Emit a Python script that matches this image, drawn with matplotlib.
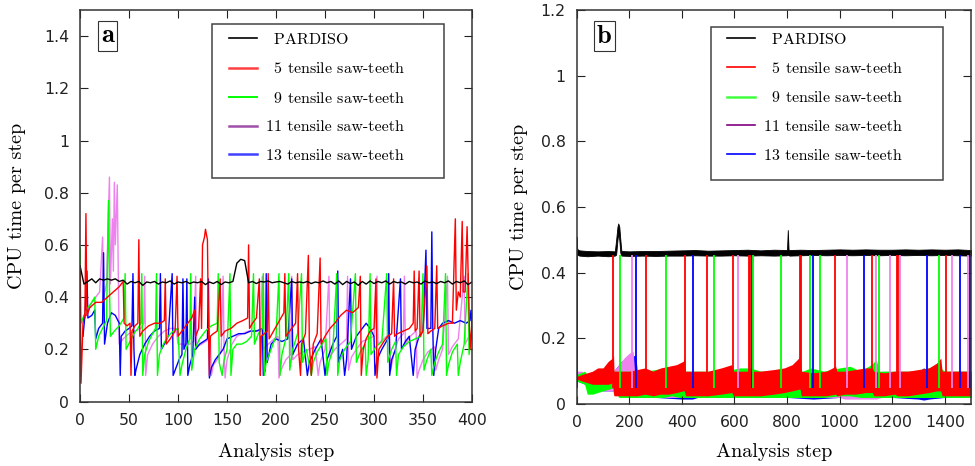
import numpy as np
import matplotlib
matplotlib.use("Agg")
import matplotlib.pyplot as plt
from matplotlib.lines import Line2D
from matplotlib.patches import Rectangle

# ---------------- panel a : 400 analysis steps ----------------
pard_a_x = list(range(0, 401, 4))
pard_a_y = [0.52, 0.45, 0.46, 0.47, 0.455, 0.47, 0.465, 0.47, 0.465, 0.47,
            0.46, 0.465, 0.45, 0.46, 0.455, 0.46, 0.445, 0.458, 0.455, 0.46,
            0.45, 0.458, 0.455, 0.462, 0.45, 0.458, 0.455, 0.46, 0.452, 0.458,
            0.455, 0.46, 0.448, 0.458, 0.452, 0.46, 0.448, 0.458, 0.455, 0.46,
            0.53, 0.545, 0.54, 0.455, 0.46, 0.452, 0.46, 0.458, 0.462, 0.455,
            0.458, 0.46, 0.455, 0.45, 0.46, 0.455, 0.458, 0.455, 0.46, 0.452,
            0.458, 0.455, 0.462, 0.455, 0.46, 0.45, 0.462, 0.448, 0.46, 0.452,
            0.458, 0.445, 0.46, 0.45, 0.462, 0.452, 0.46, 0.455, 0.462, 0.45,
            0.46, 0.455, 0.458, 0.45, 0.46, 0.455, 0.458, 0.45, 0.462, 0.455,
            0.458, 0.452, 0.46, 0.455, 0.462, 0.45, 0.46, 0.455, 0.462, 0.448,
            0.458]

red_a_x = [0, 1, 3, 5, 6, 7, 10, 16, 22, 28, 34, 40, 44, 45, 48, 51, 52, 53, 56, 59,
           60, 61, 64, 70, 76, 82, 86, 87, 88, 92, 97, 99, 100, 104, 110, 114, 117, 118, 121, 123,
           124, 125, 127, 128, 130, 131, 132, 133, 136, 140, 143, 144, 148, 154, 160, 166, 171, 172, 173, 176,
           180, 183, 184, 185, 188, 191, 192, 193, 196, 202, 208, 209, 210, 214, 220, 222, 223, 225, 226, 230,
           233, 234, 236, 238, 242, 245, 246, 250, 255, 260, 266, 272, 278, 284, 286, 287, 289, 292, 296, 300,
           302, 303, 305, 310, 314, 318, 320, 321, 324, 330, 336, 340, 341, 342, 344, 346, 347, 350, 354, 355,
           358, 362, 364, 365, 370, 376, 380, 383, 384, 386, 388, 390, 391, 393, 395, 396, 398, 400]
red_a_y = [0.52, 0.07, 0.3, 0.34, 0.72, 0.33, 0.36, 0.38, 0.38, 0.4, 0.42, 0.44, 0.46, 0.3, 0.29, 0.3, 0.1, 0.27, 0.29, 0.3,
           0.62, 0.25, 0.27, 0.29, 0.3, 0.3, 0.31, 0.47, 0.22, 0.24, 0.27, 0.48, 0.25, 0.27, 0.3, 0.32, 0.35, 0.25, 0.28, 0.47,
           0.28, 0.6, 0.63, 0.66, 0.62, 0.3, 0.1, 0.25, 0.26, 0.27, 0.47, 0.25, 0.27, 0.28, 0.3, 0.31, 0.32, 0.6, 0.28, 0.3,
           0.32, 0.47, 0.1, 0.25, 0.26, 0.27, 0.49, 0.24, 0.26, 0.3, 0.34, 0.49, 0.25, 0.27, 0.3, 0.49, 0.2, 0.1, 0.22, 0.26,
           0.56, 0.22, 0.1, 0.22, 0.26, 0.55, 0.22, 0.25, 0.28, 0.3, 0.33, 0.35, 0.34, 0.36, 0.48, 0.1, 0.2, 0.24, 0.27, 0.28,
           0.47, 0.09, 0.2, 0.23, 0.25, 0.26, 0.47, 0.25, 0.26, 0.27, 0.28, 0.3, 0.5, 0.27, 0.28, 0.5, 0.25, 0.27, 0.52, 0.26,
           0.27, 0.28, 0.52, 0.28, 0.29, 0.3, 0.3, 0.7, 0.35, 0.42, 0.4, 0.69, 0.42, 0.42, 0.67, 0.5, 0.2, 0.3]

green_a_x = [0, 1, 4, 8, 12, 15, 16, 19, 23, 27, 29, 30, 31, 35, 40, 45, 46, 47, 51, 55,
             59, 62, 63, 64, 66, 70, 74, 77, 78, 79, 81, 85, 90, 95, 100, 102, 104, 108, 112, 113,
             114, 117, 122, 128, 134, 140, 141, 142, 145, 147, 150, 153, 154, 156, 160, 165, 170, 175, 177, 178,
             182, 186, 187, 188, 190, 195, 200, 203, 204, 206, 210, 213, 214, 217, 222, 226, 227, 231, 236, 238,
             242, 247, 251, 252, 254, 258, 262, 263, 265, 270, 276, 281, 282, 286, 291, 292, 294, 296, 297, 302,
             308, 313, 314, 318, 322, 323, 325, 330, 336, 342, 348, 350, 351, 354, 358, 359, 362, 366, 370, 373,
             374, 376, 380, 385, 386, 388, 392, 396, 397, 400]
green_a_y = [0.59, 0.3, 0.33, 0.36, 0.38, 0.4, 0.2, 0.25, 0.28, 0.31, 0.77, 0.45, 0.25, 0.27, 0.29, 0.32, 0.49, 0.2, 0.23, 0.26,
             0.28, 0.3, 0.49, 0.1, 0.18, 0.23, 0.26, 0.28, 0.49, 0.1, 0.18, 0.22, 0.25, 0.27, 0.28, 0.1, 0.14, 0.2, 0.24, 0.49,
             0.12, 0.2, 0.24, 0.27, 0.29, 0.3, 0.49, 0.15, 0.1, 0.16, 0.2, 0.49, 0.1, 0.2, 0.22, 0.22, 0.23, 0.25, 0.49, 0.22,
             0.26, 0.28, 0.49, 0.1, 0.15, 0.2, 0.25, 0.49, 0.1, 0.18, 0.24, 0.49, 0.12, 0.2, 0.26, 0.49, 0.15, 0.2, 0.1, 0.15,
             0.19, 0.22, 0.24, 0.1, 0.15, 0.2, 0.49, 0.1, 0.16, 0.2, 0.23, 0.49, 0.15, 0.19, 0.22, 0.1, 0.16, 0.49, 0.18, 0.21,
             0.23, 0.49, 0.15, 0.2, 0.23, 0.1, 0.18, 0.21, 0.23, 0.24, 0.25, 0.49, 0.12, 0.16, 0.2, 0.1, 0.15, 0.19, 0.22, 0.49,
             0.1, 0.14, 0.19, 0.22, 0.1, 0.15, 0.22, 0.49, 0.18, 0.27]

violet_a_x = [5, 8, 12, 16, 20, 23, 24, 27, 30, 31, 33, 34, 35, 36, 38, 39, 40, 44, 50, 56,
              62, 65, 66, 67, 69, 74, 80, 86, 92, 98, 100, 106, 112, 116, 118, 119, 124, 128, 133, 134,
              136, 140, 144, 146, 147, 148, 150, 155, 160, 166, 172, 178, 184, 186, 187, 192, 198, 202, 203, 205,
              210, 215, 216, 217, 222, 228, 234, 240, 243, 245, 250, 254, 255, 260, 266, 272, 273, 274, 277, 282,
              288, 294, 300, 303, 304, 310, 316, 317, 320, 325, 330, 331, 332, 337, 343, 344, 346, 350, 355, 362,
              363, 366, 370, 375, 376, 380, 386, 392, 393, 397, 400]
violet_a_y = [0.32, 0.35, 0.38, 0.4, 0.42, 0.63, 0.4, 0.45, 0.86, 0.45, 0.7, 0.5, 0.84, 0.6, 0.83, 0.5, 0.22, 0.24, 0.26, 0.27,
              0.28, 0.3, 0.48, 0.1, 0.18, 0.22, 0.25, 0.27, 0.28, 0.28, 0.22, 0.22, 0.22, 0.23, 0.48, 0.21, 0.22, 0.23, 0.24, 0.1,
              0.14, 0.16, 0.19, 0.48, 0.2, 0.09, 0.16, 0.22, 0.25, 0.26, 0.27, 0.27, 0.27, 0.48, 0.2, 0.22, 0.24, 0.25, 0.09, 0.12,
              0.16, 0.18, 0.48, 0.16, 0.18, 0.19, 0.2, 0.21, 0.1, 0.15, 0.2, 0.48, 0.17, 0.2, 0.22, 0.24, 0.48, 0.12, 0.17, 0.2,
              0.23, 0.24, 0.25, 0.48, 0.22, 0.24, 0.26, 0.12, 0.18, 0.24, 0.26, 0.48, 0.22, 0.25, 0.27, 0.09, 0.12, 0.16, 0.19, 0.21,
              0.12, 0.16, 0.2, 0.48, 0.18, 0.21, 0.24, 0.48, 0.22, 0.25, 0.26]

blue_a_x = [3, 5, 7, 8, 12, 15, 16, 19, 23, 24, 25, 28, 32, 36, 40, 41, 42, 46, 50, 53,
            54, 55, 56, 57, 61, 66, 71, 76, 81, 82, 83, 86, 90, 94, 95, 97, 101, 104, 105, 106,
            108, 109, 110, 112, 115, 117, 118, 122, 126, 130, 131, 132, 134, 138, 142, 146, 150, 156, 162, 168,
            174, 180, 186, 187, 189, 190, 191, 195, 200, 206, 212, 216, 217, 222, 228, 232, 234, 240, 246, 250,
            252, 258, 262, 263, 264, 268, 270, 272, 276, 277, 282, 288, 292, 296, 300, 301, 303, 308, 314, 315,
            316, 318, 322, 327, 328, 332, 336, 340, 342, 346, 350, 353, 354, 358, 359, 360, 361, 363, 366, 370,
            376, 382, 388, 394, 398, 399, 400]
blue_a_y = [0.25, 0.33, 0.5, 0.32, 0.33, 0.35, 0.24, 0.28, 0.3, 0.57, 0.22, 0.3, 0.34, 0.33, 0.3, 0.1, 0.25, 0.27, 0.28, 0.29,
            0.49, 0.2, 0.1, 0.12, 0.18, 0.22, 0.25, 0.27, 0.28, 0.49, 0.2, 0.22, 0.25, 0.49, 0.1, 0.12, 0.16, 0.18, 0.47, 0.2,
            0.22, 0.47, 0.1, 0.14, 0.18, 0.4, 0.2, 0.22, 0.23, 0.24, 0.47, 0.09, 0.13, 0.16, 0.18, 0.2, 0.24, 0.25, 0.26, 0.26,
            0.27, 0.27, 0.28, 0.1, 0.12, 0.49, 0.15, 0.22, 0.24, 0.23, 0.24, 0.47, 0.18, 0.22, 0.24, 0.1, 0.15, 0.2, 0.24, 0.1,
            0.16, 0.22, 0.25, 0.5, 0.15, 0.2, 0.1, 0.16, 0.47, 0.2, 0.25, 0.28, 0.3, 0.28, 0.25, 0.1, 0.16, 0.2, 0.24, 0.49,
            0.1, 0.16, 0.2, 0.47, 0.2, 0.23, 0.25, 0.1, 0.2, 0.25, 0.27, 0.58, 0.28, 0.28, 0.65, 0.28, 0.1, 0.2, 0.28, 0.3,
            0.31, 0.3, 0.31, 0.3, 0.31, 0.35, 0.3]

# ---------------- panel b : 1500 analysis steps ----------------
# PARDISO: thin jittery band (lower / upper envelope)
pard_b_x = [0, 2, 10, 40, 80, 120, 145, 150, 155, 158, 162, 166, 170, 200, 250, 300, 350, 400, 450, 500,
            550, 600, 650, 700, 750, 800, 803, 806, 810, 850, 900, 950, 1000, 1050, 1100, 1150, 1200, 1250, 1300, 1350,
            1400, 1450, 1500]
pard_b_hi = [0.5, 0.472, 0.468, 0.466, 0.465, 0.466, 0.465, 0.5, 0.54, 0.55, 0.54, 0.5, 0.466, 0.465, 0.466, 0.466, 0.467, 0.468, 0.469, 0.467,
             0.468, 0.469, 0.47, 0.468, 0.47, 0.469, 0.53, 0.47, 0.469, 0.47, 0.469, 0.47, 0.471, 0.47, 0.471, 0.47, 0.47, 0.471, 0.47, 0.471,
             0.47, 0.471, 0.469]
pard_b_lo = [0.46, 0.455, 0.452, 0.45, 0.452, 0.45, 0.452, 0.455, 0.5, 0.52, 0.5, 0.46, 0.452, 0.451, 0.452, 0.451, 0.452, 0.452, 0.453, 0.452,
             0.452, 0.453, 0.452, 0.453, 0.452, 0.453, 0.455, 0.453, 0.452, 0.453, 0.454, 0.453, 0.454, 0.453, 0.454, 0.453, 0.454, 0.453, 0.454, 0.453,
             0.454, 0.453, 0.452]

red_b_x = [0, 2, 4, 20, 40, 60, 80, 100, 120, 136, 140, 142, 170, 200, 230, 260, 290, 320, 350, 380,
           405, 410, 414, 450, 500, 550, 590, 596, 600, 650, 700, 750, 790, 820, 845, 850, 854, 900, 950, 985,
           990, 1020, 1060, 1100, 1125, 1130, 1170, 1210, 1220, 1260, 1300, 1340, 1370, 1385, 1390, 1420, 1460, 1500]
red_b_hi = [0.47, 0.09, 0.085, 0.09, 0.095, 0.1, 0.11, 0.11, 0.13, 0.14, 0.15, 0.1, 0.1, 0.1, 0.105, 0.11, 0.1, 0.11, 0.115, 0.12,
            0.13, 0.14, 0.1, 0.1, 0.1, 0.11, 0.12, 0.1, 0.1, 0.1, 0.1, 0.105, 0.11, 0.12, 0.14, 0.15, 0.1, 0.095, 0.1, 0.115,
            0.1, 0.1, 0.105, 0.11, 0.11, 0.1, 0.095, 0.1, 0.1, 0.1, 0.105, 0.11, 0.125, 0.14, 0.1, 0.1, 0.1, 0.1]
red_b_lo = [0.07, 0.07, 0.075, 0.07, 0.065, 0.06, 0.06, 0.06, 0.06, 0.065, 0.03, 0.025, 0.025, 0.025, 0.025, 0.03, 0.025, 0.03, 0.03, 0.035,
            0.04, 0.04, 0.025, 0.025, 0.025, 0.03, 0.035, 0.025, 0.025, 0.025, 0.025, 0.03, 0.035, 0.04, 0.045, 0.045, 0.025, 0.025, 0.025, 0.03,
            0.025, 0.03, 0.03, 0.035, 0.035, 0.025, 0.025, 0.03, 0.025, 0.025, 0.03, 0.035, 0.04, 0.04, 0.025, 0.025, 0.025, 0.025]

green_b_x = [0, 30, 40, 60, 100, 140, 160, 200, 260, 300, 330, 360, 390, 420, 500, 560, 620, 660, 700, 780,
             860, 890, 940, 1000, 1040, 1080, 1120, 1140, 1150, 1200, 1280, 1340, 1370, 1400, 1460, 1500]
green_b_hi = [0.09, 0.1, 0.09, 0.08, 0.09, 0.1, 0.1, 0.1, 0.1, 0.105, 0.11, 0.115, 0.1, 0.1, 0.1, 0.1, 0.11, 0.11, 0.1, 0.1,
              0.1, 0.11, 0.1, 0.11, 0.115, 0.1, 0.12, 0.135, 0.1, 0.1, 0.1, 0.11, 0.12, 0.1, 0.1, 0.1]
green_b_lo = [0.07, 0.06, 0.03, 0.03, 0.04, 0.05, 0.02, 0.02, 0.02, 0.02, 0.02, 0.025, 0.02, 0.02, 0.02, 0.02, 0.02, 0.02, 0.02, 0.02,
              0.02, 0.02, 0.02, 0.025, 0.025, 0.02, 0.02, 0.02, 0.02, 0.02, 0.02, 0.02, 0.02, 0.02, 0.02, 0.02]

violet_b_x = [0, 20, 40, 100, 140, 160, 180, 200, 215, 220, 260, 400, 600, 800, 1000, 1020, 1060, 1100, 1140, 1160,
              1300, 1340, 1370, 1400, 1500]
violet_b_hi = [0.1, 0.1, 0.08, 0.07, 0.1, 0.12, 0.14, 0.155, 0.16, 0.1, 0.09, 0.09, 0.1, 0.1, 0.1, 0.09, 0.09, 0.09, 0.09, 0.1,
               0.1, 0.08, 0.08, 0.1, 0.1]
violet_b_lo = [0.08, 0.07, 0.05, 0.04, 0.04, 0.03, 0.03, 0.025, 0.025, 0.02, 0.02, 0.02, 0.02, 0.02, 0.02, 0.015, 0.015, 0.015, 0.015, 0.02,
               0.02, 0.02, 0.02, 0.02, 0.02]

blue_b_x = [0, 100, 140, 170, 200, 225, 230, 300, 400, 440, 460, 600, 800, 900, 1000, 1200, 1300, 1320, 1340, 1400, 1500]
blue_b_hi = [0.1, 0.08, 0.1, 0.13, 0.14, 0.15, 0.1, 0.09, 0.09, 0.1, 0.09, 0.09, 0.09, 0.1, 0.09, 0.09, 0.1, 0.11, 0.1, 0.09, 0.09]
blue_b_lo = [0.07, 0.04, 0.04, 0.03, 0.025, 0.02, 0.02, 0.02, 0.015, 0.015, 0.02, 0.02, 0.02, 0.015, 0.02, 0.02, 0.015, 0.012, 0.015, 0.02, 0.02]

# steps where a series jumps back up to the PARDISO level
red_b_spk = [139, 264, 411, 495, 595, 657, 661, 848, 852, 982, 1125, 1217, 1221, 1405]
red_b_top = [0.455, 0.455, 0.455, 0.455, 0.455, 0.455, 0.455, 0.455, 0.455, 0.455, 0.455, 0.455, 0.455, 0.455]
green_b_spk = [163, 341, 523, 669, 779, 887, 925, 1150, 1378]
green_b_top = [0.455, 0.455, 0.455, 0.455, 0.455, 0.455, 0.455, 0.455, 0.455]
violet_b_spk = [212, 615, 1030, 1137, 1190, 1230, 1427, 1488]
violet_b_top = [0.455, 0.455, 0.455, 0.455, 0.455, 0.455, 0.455, 0.455]
blue_b_spk = [0, 227, 444, 665, 898, 1094, 1331, 1459, 1497]
blue_b_top = [0.51, 0.455, 0.455, 0.455, 0.455, 0.455, 0.455, 0.455, 0.455]

labels = [r"$\enspace$PARDISO", r"$\enspace$5 tensile saw-teeth", r"$\enspace$9 tensile saw-teeth",
          "11 tensile saw-teeth", "13 tensile saw-teeth"]

RED, GREEN, VIOLET, BLUE = "#ff0000", "#00ff00", "#ee82ee", "#0000ff"
SERIF = "cmr10"


def style_axes(ax, xticks, yticks, ylabels, xlim, ylim, letter):
    ax.set_xlim(*xlim)
    ax.set_ylim(*ylim)
    ax.set_xticks(xticks)
    ax.set_yticks(yticks)
    ax.set_yticklabels(ylabels)
    ax.tick_params(direction="in", top=True, right=True, length=6, width=0.8,
                   labelsize=11.3, pad=8, colors="#222222")
    for sp in ax.spines.values():
        sp.set_linewidth(1.1)
        sp.set_color("#333333")
    ax.set_xlabel("Analysis step", fontfamily=SERIF, fontsize=14.5)
    ax.set_ylabel("CPU time per step", fontfamily=SERIF, fontsize=14.5)
    ax.text(0.07, 0.934, letter, transform=ax.transAxes, ha="center", va="center",
            fontfamily="cmb10", fontsize=19,
            bbox=dict(boxstyle="square,pad=0.12", fc="white", ec="#333333", lw=0.8))


def add_legend(ax, handles, frame, anchor):
    # key frame drawn as its own box, entries placed inside it
    ax.add_patch(Rectangle(frame[:2], frame[2], frame[3], transform=ax.transAxes,
                           fc="white", ec="#444444", lw=1.1, zorder=5))
    leg = ax.legend(handles, labels, loc="upper left", bbox_to_anchor=anchor,
                    borderaxespad=0, borderpad=0, prop={"family": SERIF, "size": 11.5},
                    handlelength=1.75, handletextpad=0.55, labelspacing=0.9,
                    frameon=False)
    leg.set_zorder(6)


fig = plt.figure(figsize=(9.75, 4.66), dpi=100)
ax1 = fig.add_axes([0.0821, 0.1384, 0.402, 0.840])
ax2 = fig.add_axes([0.5915, 0.1330, 0.4044, 0.8455])

# panel a
ax1.plot(violet_a_x, violet_a_y, color=VIOLET, lw=1.0)
ax1.plot(blue_a_x, blue_a_y, color=BLUE, lw=1.0)
ax1.plot(green_a_x, green_a_y, color=GREEN, lw=1.0)
ax1.plot(red_a_x, red_a_y, color=RED, lw=1.0)
ax1.plot(pard_a_x, pard_a_y, color="black", lw=1.0)

style_axes(ax1, np.arange(0, 401, 50), np.arange(0, 1.41, 0.2),
           ["0", "0.2", "0.4", "0.6", "0.8", "1", "1.2", "1.4"], (0, 400), (0, 1.5), "a")
ax1.yaxis.set_label_coords(-0.138, 0.5)
ax1.xaxis.set_label_coords(0.5, -0.105)
ha = [Line2D([], [], color="black", lw=1.2), Line2D([], [], color="#ff4040", lw=1.8),
      Line2D([], [], color=GREEN, lw=1.4), Line2D([], [], color="#a050a8", lw=1.8),
      Line2D([], [], color="#4040ff", lw=1.8)]
add_legend(ax1, ha, (0.337, 0.571, 0.592, 0.393), (0.380, 0.944))

# panel b
spike_base = 0.05
for xs, lo, hi, c in [(blue_b_x, blue_b_lo, blue_b_hi, BLUE),
                      (violet_b_x, violet_b_lo, violet_b_hi, VIOLET),
                      (green_b_x, green_b_lo, green_b_hi, GREEN),
                      (red_b_x, red_b_lo, red_b_hi, RED)]:
    ax2.fill_between(xs, lo, hi, color=c, lw=0)
for xs, top, c in [(blue_b_spk, blue_b_top, BLUE), (violet_b_spk, violet_b_top, VIOLET),
                   (green_b_spk, green_b_top, GREEN), (red_b_spk, red_b_top, RED)]:
    ax2.vlines(xs, spike_base, top, color=c, lw=1.3)
ax2.fill_between(pard_b_x, pard_b_lo, pard_b_hi, color="black", lw=0.6)

style_axes(ax2, np.arange(0, 1401, 200), np.arange(0, 1.21, 0.2),
           ["0", "0.2", "0.4", "0.6", "0.8", "1", "1.2"], (0, 1500), (0, 1.2), "b")
ax2.yaxis.set_label_coords(-0.124, 0.5)
ax2.xaxis.set_label_coords(0.5, -0.100)
hb = [Line2D([], [], color="black", lw=1.2), Line2D([], [], color=RED, lw=1.2),
      Line2D([], [], color="#40ff40", lw=1.8), Line2D([], [], color="#800080", lw=1.2),
      Line2D([], [], color=BLUE, lw=1.2)]
add_legend(ax2, hb, (0.3406, 0.5685, 0.588, 0.388), (0.381, 0.945))

fig.savefig("out.png", dpi=100)
